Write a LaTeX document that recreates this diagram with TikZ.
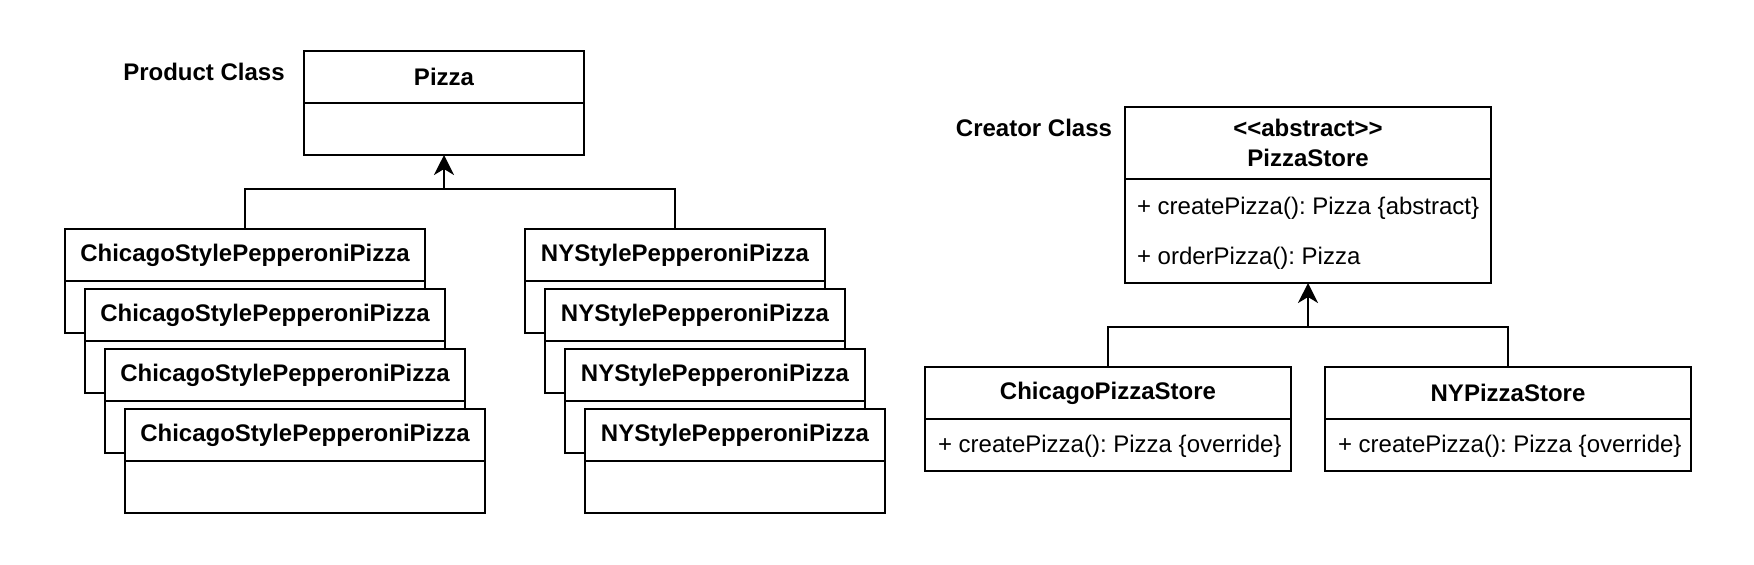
\documentclass[tikz,border=0pt]{standalone}
\usepackage{fontspec}
\setmainfont{Liberation Sans}
\usetikzlibrary{arrows.meta}
\newcommand\diagfs{\fontsize{12}{15}\selectfont\frenchspacing}
\begin{document}
\begin{tikzpicture}[x=0.5pt,y=-0.5pt,line width=1.15pt,outer sep=0pt,
  hd/.style={draw,fill=white,minimum height=26pt,inner sep=0pt,font=\diagfs\bfseries,anchor=north west},
  bd/.style={draw,fill=white,minimum height=26pt,inner sep=0pt,anchor=north},
  lbl/.style={font=\diagfs\bfseries,inner sep=0pt},
  meth/.style={anchor=west,inner sep=0pt,font=\diagfs},
  inh/.style={-{Stealth[length=10pt,width=10pt,inset=3pt]}}]
\useasboundingbox (0,0) rectangle (1754,564);

% Product side
\node[lbl] (pc) at (204,72) {Product Class};
\node[hd,minimum width=140pt] (pz) at (304,51) {Pizza};
\node[bd,minimum width=140pt] (pzb) at (pz.south) {};

\foreach \i in {0,...,3}{
  \node[hd,minimum width=180pt] (c\i) at ({65+20*\i},{229+60*\i}) {ChicagoStylePepperoniPizza};
  \node[bd,minimum width=180pt] (cb\i) at (c\i.south) {};
}
\foreach \i in {0,...,3}{
  \node[hd,minimum width=150pt] (n\i) at ({525+20*\i},{229+60*\i}) {NYStylePepperoniPizza};
  \node[bd,minimum width=150pt] (nb\i) at (n\i.south) {};
}

\coordinate (jp) at (444,189);
\draw (c0.north) |- (jp);
\draw (n0.north) |- (jp);
\draw[inh] (jp) -- (pzb.south);

% Creator side
\node[lbl] (cc) at (1034,128) {Creator Class};
\node[hd,minimum width=183pt,minimum height=36pt,align=center] (ps) at (1125,107)
  {<\kern0pt<abstract>\kern0pt>\\PizzaStore};
\node[bd,minimum width=183pt,minimum height=52pt] (psb) at (ps.south) {};
\node[meth] (m1) at (1137,208) {+ createPizza(): Pizza \{abstract\}};
\node[meth] (m2) at (1137,258) {+ orderPizza(): Pizza};

\node[hd,minimum width=183pt] (cs) at (925,367) {ChicagoPizzaStore};
\node[bd,minimum width=183pt] (csb) at (cs.south) {};
\node[meth] (cm) at (938,446) {+ createPizza(): Pizza \{override\}};

\node[hd,minimum width=183pt] (ns) at (1325,367) {NYPizzaStore};
\node[bd,minimum width=183pt] (nsb) at (ns.south) {};
\node[meth] (nm) at (1338,446) {+ createPizza(): Pizza \{override\}};

\coordinate (jc) at (1308,327);
\draw (cs.north) |- (jc);
\draw (ns.north) |- (jc);
\draw[inh] (jc) -- (psb.south);
\end{tikzpicture}
\end{document}
